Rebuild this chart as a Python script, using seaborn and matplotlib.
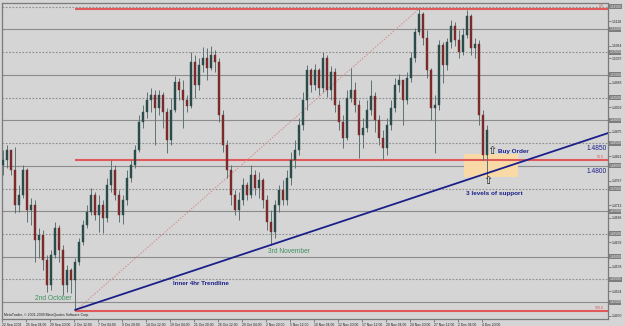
import numpy as np
import pandas as pd
import seaborn as sns
import matplotlib
matplotlib.use('Agg')
import matplotlib.pyplot as plt
from matplotlib.patches import Rectangle

# EURUSD 4h-ish candles (one candle every ~4 px)
first_open = 1.4802
close = [1.4813, 1.4835, 1.4791, 1.4714, 1.4736, 1.4791, 1.4703, 1.4714, 1.4637, 1.4648,
         1.4593, 1.4538, 1.4604, 1.4663, 1.4615, 1.4538, 1.4571, 1.4549, 1.4589, 1.4633,
         1.4670, 1.4699, 1.4736, 1.4692, 1.4714, 1.4685, 1.4758, 1.4791, 1.4736, 1.4692,
         1.4725, 1.4773, 1.4802, 1.4835, 1.4897, 1.4919, 1.4945, 1.4956, 1.4927, 1.4956,
         1.4919, 1.4857, 1.4923, 1.4985, 1.4967, 1.4945, 1.4932, 1.5029, 1.4978, 1.5022,
         1.5037, 1.5015, 1.5044, 1.5029, 1.4912, 1.4846, 1.4791, 1.4736, 1.4703, 1.4725,
         1.4758, 1.4736, 1.4780, 1.4751, 1.4769, 1.4725, 1.4677, 1.4655, 1.4714, 1.4747,
         1.4725, 1.4773, 1.4813, 1.4835, 1.4890, 1.4945, 1.5011, 1.4978, 1.5011, 1.4971,
         1.5037, 1.4967, 1.5007, 1.4934, 1.4897, 1.4861, 1.4949, 1.4967, 1.4934, 1.4868,
         1.4883, 1.4923, 1.4954, 1.4901, 1.4861, 1.4839, 1.4890, 1.4927, 1.4978, 1.4989,
         1.4945, 1.4993, 1.5037, 1.5095, 1.5134, 1.5081, 1.5011, 1.4927, 1.4934, 1.5066,
         1.5022, 1.5073, 1.5108, 1.5077, 1.5051, 1.5088, 1.5130, 1.5059, 1.5068, 1.4912,
         1.4824, 1.4879]
high = [1.4835, 1.4846, 1.4817, 1.4842, 1.4758, 1.4802, 1.4795, 1.4729, 1.4725, 1.4663,
        1.4659, 1.4604, 1.4615, 1.4677, 1.4670, 1.4626, 1.4582, 1.4575, 1.4597, 1.4641,
        1.4681, 1.4714, 1.4751, 1.4743, 1.4736, 1.4725, 1.4773, 1.4813, 1.4802, 1.4747,
        1.4736, 1.4791, 1.4813, 1.4846, 1.4912, 1.4934, 1.4963, 1.4971, 1.4967, 1.4967,
        1.4963, 1.4927, 1.4949, 1.4998, 1.4993, 1.4989, 1.4956, 1.5051, 1.5044, 1.5037,
        1.5062, 1.5059, 1.5064, 1.5055, 1.5037, 1.4923, 1.4857, 1.4802, 1.4747, 1.4743,
        1.4773, 1.4765, 1.4802, 1.4791, 1.4787, 1.4773, 1.4736, 1.4703, 1.4725, 1.4758,
        1.4769, 1.4791, 1.4831, 1.4857, 1.4905, 1.4963, 1.5022, 1.5015, 1.5024, 1.5015,
        1.5051, 1.5044, 1.5020, 1.5015, 1.4945, 1.4912, 1.4967, 1.5015, 1.4985, 1.4945,
        1.4905, 1.4945, 1.4989, 1.4963, 1.4912, 1.4879, 1.4905, 1.4945, 1.4993, 1.5002,
        1.4980, 1.5007, 1.5051, 1.5103, 1.5145, 1.5139, 1.5099, 1.5015, 1.4956, 1.5077,
        1.5073, 1.5081, 1.5121, 1.5117, 1.5099, 1.5103, 1.5143, 1.5134, 1.5081, 1.5077,
        1.4923, 1.4890]
low = [1.4780, 1.4795, 1.4780, 1.4696, 1.4699, 1.4729, 1.4677, 1.4670, 1.4589, 1.4597,
       1.4571, 1.4523, 1.4527, 1.4597, 1.4589, 1.4516, 1.4523, 1.4520, 1.4485, 1.4582,
       1.4626, 1.4663, 1.4692, 1.4681, 1.4655, 1.4652, 1.4677, 1.4743, 1.4725, 1.4677,
       1.4672, 1.4714, 1.4765, 1.4795, 1.4831, 1.4883, 1.4905, 1.4919, 1.4846, 1.4912,
       1.4883, 1.4828, 1.4846, 1.4919, 1.4945, 1.4883, 1.4919, 1.4927, 1.4949, 1.4967,
       1.5007, 1.4989, 1.5011, 1.5007, 1.4897, 1.4831, 1.4773, 1.4714, 1.4692, 1.4681,
       1.4714, 1.4725, 1.4729, 1.4736, 1.4729, 1.4707, 1.4659, 1.4626, 1.4641, 1.4699,
       1.4714, 1.4714, 1.4758, 1.4795, 1.4824, 1.4879, 1.4923, 1.4963, 1.4967, 1.4956,
       1.4963, 1.4952, 1.4945, 1.4919, 1.4879, 1.4839, 1.4857, 1.4941, 1.4919, 1.4817,
       1.4839, 1.4875, 1.4912, 1.4875, 1.4846, 1.4813, 1.4824, 1.4879, 1.4919, 1.4963,
       1.4890, 1.4936, 1.4985, 1.5029, 1.5088, 1.5066, 1.4993, 1.4901, 1.4828, 1.4923,
       1.4982, 1.5011, 1.5059, 1.5064, 1.5037, 1.5044, 1.5081, 1.5044, 1.5037, 1.4890,
       1.4813, 1.4775]

date_labels = ['22 Sep 2009', '25 Sep 04:00', '29 Sep 20:00', '2 Oct 12:00', '7 Oct 04:00',
               '9 Oct 20:00', '14 Oct 12:00', '19 Oct 04:00', '21 Oct 20:00', '26 Oct 12:00',
               '29 Oct 04:00', '2 Nov 20:00', '5 Nov 12:00', '10 Nov 04:00', '12 Nov 20:00',
               '17 Nov 12:00', '20 Nov 04:00', '24 Nov 20:00', '27 Nov 12:00', '2 Dec 04:00',
               '4 Dec 20:00']
price_ticks = [1.4470, 1.4524, 1.4578, 1.4632, 1.4686, 1.4713, 1.4767, 1.4821, 1.4875,
               1.4929, 1.4983, 1.5037, 1.5064, 1.5118]
solid_levels = [1.4500, 1.4600, 1.4700, 1.4800, 1.4900, 1.5000, 1.5100]
dotted_levels = [1.4550, 1.4650, 1.4750, 1.4850, 1.4950, 1.5050, 1.5150]

# fibonacci retracement anchors (2nd Oct low -> late Nov high)
fib_low, fib_high = 1.4480, 1.5145
fib_low_bar, fib_high_bar = 18, 104
# trendline through the 2nd Oct and 3rd Nov lows
trend_bars = [18, 67]
trend_prices = [1.4483, 1.4626]

sns.set_theme(style='white')
plt.rcParams['font.family'] = ['Liberation Sans', 'DejaVu Sans']

df = pd.DataFrame({'close': close, 'high': high, 'low': low})
df['open'] = [first_open] + close[:-1]
df['up'] = df['close'] >= df['open']

bg = '#d5d5d5'
fig = plt.figure(figsize=(6.25, 3.26), dpi=100, facecolor=bg)
ax = fig.add_axes([2 / 625, 7 / 326, 606 / 625, 316 / 326], facecolor=bg)
ax.set_xlim(-0.25, 151.25)
ax.set_ylim(1.4463, 1.5158)

# horizontal levels
for lv in solid_levels:
    ax.axhline(lv, color='#8c8c8c', lw=0.8, zorder=1)
for lv in dotted_levels:
    ax.axhline(lv, color='#8c8c8c', lw=0.8, ls=(0, (1.5, 1.5)), zorder=1)

# support zone
ax.add_patch(Rectangle((115.3, 1.4776), 13.5, 0.0050, facecolor='#f9d9a6',
                       edgecolor='none', zorder=1.5))

# fibonacci lines
x_end = 151.25
for lv, lab in [(fib_high, '0.0'), ((fib_high + fib_low) / 2, '50.0'), (fib_low, '100.0')]:
    ax.plot([fib_low_bar, x_end], [lv, lv], color='#e05a5a', lw=1.5, zorder=2,
            solid_capstyle='butt')
    ax.text(150.3, lv + 0.0002, lab, color='#e05a5a', fontsize=2.6, ha='right', va='bottom', zorder=5)
ax.plot([fib_low_bar, fib_high_bar], [fib_low, fib_high], color='#d88a8a', lw=0.7,
        ls=(0, (1.5, 1.5)), zorder=2)

# candles
wick_col = '#5f7272'
ax.vlines(df.index, df['low'], df['high'], color=wick_col, lw=0.7, zorder=3)
body_lo = df[['open', 'close']].min(axis=1)
body_h = (df['close'] - df['open']).abs().clip(lower=0.0003)
cols = np.where(df['up'], '#2b4b4b', '#7a2a2a')
ax.bar(df.index, body_h, bottom=body_lo, width=0.55, color=cols, edgecolor=cols,
       linewidth=0.3, zorder=3)

# trendline
slope = (trend_prices[1] - trend_prices[0]) / (trend_bars[1] - trend_bars[0])
ax.plot([trend_bars[0], x_end], [trend_prices[0], trend_prices[0] + slope * (x_end - trend_bars[0])],
        color='#1b1f8a', lw=1.3, zorder=4)

navy = '#1b1f8a'
green = '#3f8f5f'
ax.text(17.2, 1.4507, '2nd October', color=green, fontsize=4.8, ha='right', va='center', zorder=5)
ax.text(66.3, 1.4611, '3rd November', color=green, fontsize=4.8, ha='left', va='center', zorder=5)
ax.text(42.5, 1.4540, 'Inner 4hr Trendline', color=navy, fontsize=4.5, fontweight='bold',
        ha='left', va='center', zorder=5)
ax.text(122.3, 1.4833, '\u21e7', color='#1a1a1a', fontsize=8, ha='center', va='center', zorder=5,
        family=['DejaVu Sans'])
ax.text(123.7, 1.4831, 'Buy Order', color=navy, fontsize=4.6, fontweight='bold',
        ha='left', va='center', zorder=5)
ax.text(121.3, 1.4766, '\u21e7', color='#1a1a1a', fontsize=8, ha='center', va='center', zorder=5,
        family=['DejaVu Sans'])
ax.text(115.8, 1.4740, '3 levels of support', color=navy, fontsize=4.6, fontweight='bold',
        ha='left', va='center', zorder=5)
ax.text(150.9, 1.4839, '1.4850', color=navy, fontsize=4.8, ha='right', va='center', zorder=5)
ax.text(150.9, 1.4787, '1.4800', color=navy, fontsize=4.8, ha='right', va='center', zorder=5)
ax.text(0.003, 0.005, 'MetaTrader, \u00a9 2001-2009 MetaQuotes Software Corp.', transform=ax.transAxes,
        fontsize=2.5, color='#222222', ha='left', va='bottom', zorder=5)

# axes: dates along the bottom, prices on the right
ax.set_xticks([6 * k - 0.25 for k in range(len(date_labels))])
ax.set_xticklabels(date_labels, fontsize=2.4, ha='left', color='#222222')
ax.yaxis.tick_right()
ax.set_yticks(price_ticks)
ax.set_yticklabels([f'{p:.4f}' for p in price_ticks], fontsize=2.4, color='#222222')
ax.tick_params(axis='x', length=2, width=0.4, pad=1, color='#444444', bottom=True)
ax.tick_params(axis='y', length=2, width=0.4, pad=1, color='#444444', right=True)
for lv in solid_levels + dotted_levels:
    ax.text(1.002, lv, f'{lv:.5f}', transform=ax.get_yaxis_transform(), fontsize=2.3,
            color='#eeeeee', va='center', ha='left', clip_on=False,
            bbox=dict(boxstyle='square,pad=0.15', fc='#7d7d7d', ec='none'))
for s in ax.spines.values():
    s.set_color('#7a7a7a')
    s.set_linewidth(0.9)

fig.savefig('out.png', dpi=100, facecolor=bg)
